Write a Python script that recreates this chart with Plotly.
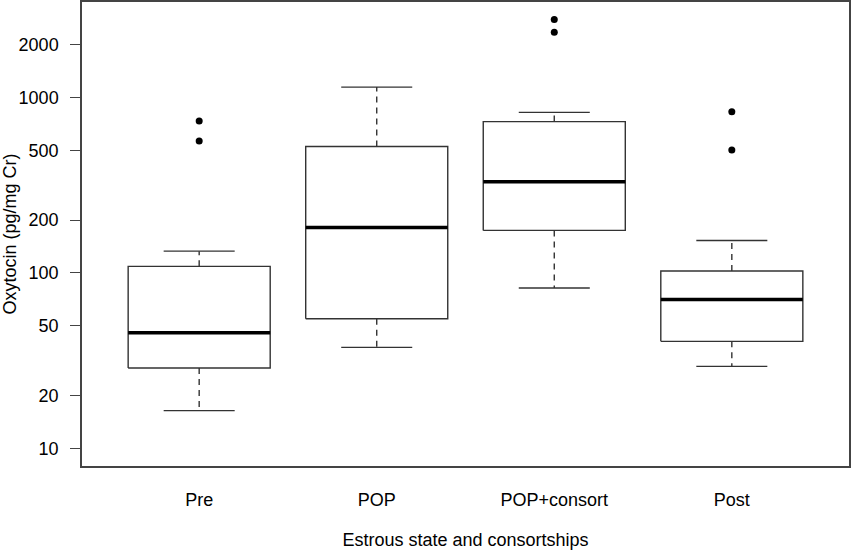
import plotly.graph_objects as go

categories = ["Pre", "POP", "POP+consort", "Post"]
lower_whisker = [16.4, 37.6, 82.0, 29.3]
q1 = [28.7, 54.8, 174.6, 40.7]
median = [45.5, 181.5, 331.0, 70.5]
q3 = [108.9, 525.0, 728.0, 102.4]
upper_whisker = [133.0, 1145.0, 822.0, 153.0]
outliers = [[734.0, 565.0], [], [2780.0, 2355.0], [830.0, 502.0]]

y_tickvals = [10, 20, 50, 100, 200, 500, 1000, 2000]
y_ticktext = ["10", "20", "50", "100", "200", "500", "1000", "2000"]

positions = list(range(1, len(categories) + 1))
half_box = 0.4
half_cap = 0.2

box_x, box_y = [], []
med_x, med_y = [], []
wh_x, wh_y = [], []
cap_x, cap_y = [], []
out_x, out_y = [], []
for p, lo, a, m, b, hi, outs in zip(positions, lower_whisker, q1, median, q3, upper_whisker, outliers):
    box_x += [p - half_box, p + half_box, p + half_box, p - half_box, p - half_box, None]
    box_y += [a, a, b, b, a, None]
    med_x += [p - half_box, p + half_box, None]
    med_y += [m, m, None]
    wh_x += [p, p, None, p, p, None]
    wh_y += [b, hi, None, a, lo, None]
    cap_x += [p - half_cap, p + half_cap, None, p - half_cap, p + half_cap, None]
    cap_y += [hi, hi, None, lo, lo, None]
    for o in outs:
        out_x.append(p)
        out_y.append(o)

line_col = "#333333"
fig = go.Figure()
fig.add_trace(go.Scatter(x=wh_x, y=wh_y, mode="lines",
                         line=dict(color=line_col, width=1.4, dash="6px,5px"),
                         hoverinfo="skip", showlegend=False))
fig.add_trace(go.Scatter(x=cap_x, y=cap_y, mode="lines",
                         line=dict(color=line_col, width=1.4),
                         hoverinfo="skip", showlegend=False))
fig.add_trace(go.Scatter(x=box_x, y=box_y, mode="lines",
                         line=dict(color=line_col, width=1.4),
                         hoverinfo="skip", showlegend=False))
fig.add_trace(go.Scatter(x=med_x, y=med_y, mode="lines",
                         line=dict(color="#000000", width=3.5),
                         hoverinfo="skip", showlegend=False))
fig.add_trace(go.Scatter(x=out_x, y=out_y, mode="markers",
                         marker=dict(color="#000000", size=7),
                         hoverinfo="skip", showlegend=False))

font_family = "Liberation Sans, Arial, Helvetica, sans-serif"
fig.update_layout(
    width=851, height=550,
    margin=dict(l=82, r=2, t=2, b=84, autoexpand=False),
    paper_bgcolor="white", plot_bgcolor="white",
    font=dict(family=font_family, size=18, color="#000000"),
    xaxis=dict(
        range=[0.34, 4.66], tickvals=positions, ticktext=categories,
        showgrid=False, zeroline=False, ticks="", automargin=False,
        showline=True, mirror=True, linecolor="#444444", linewidth=1.5,
        ticklabelstandoff=17,
        title=dict(text="Estrous state and consortships", standoff=25,
                   font=dict(size=18)),
        tickfont=dict(size=18),
    ),
    yaxis=dict(
        type="log", range=[0.899, 3.544],
        tickvals=y_tickvals, ticktext=y_ticktext,
        showgrid=False, zeroline=False, automargin=False,
        ticks="outside", ticklen=10, tickwidth=1.3, tickcolor="#444444",
        showline=True, mirror=True, linecolor="#444444", linewidth=1.5,
        ticklabelstandoff=8,
        title=dict(text="Oxytocin (pg/mg Cr)", standoff=4, font=dict(size=18)),
        tickfont=dict(size=18),
    ),
)

fig.write_html("out.html",
               config={"displayModeBar": False},
               post_script="document.body.style.margin='0';document.body.style.overflow='hidden';")
